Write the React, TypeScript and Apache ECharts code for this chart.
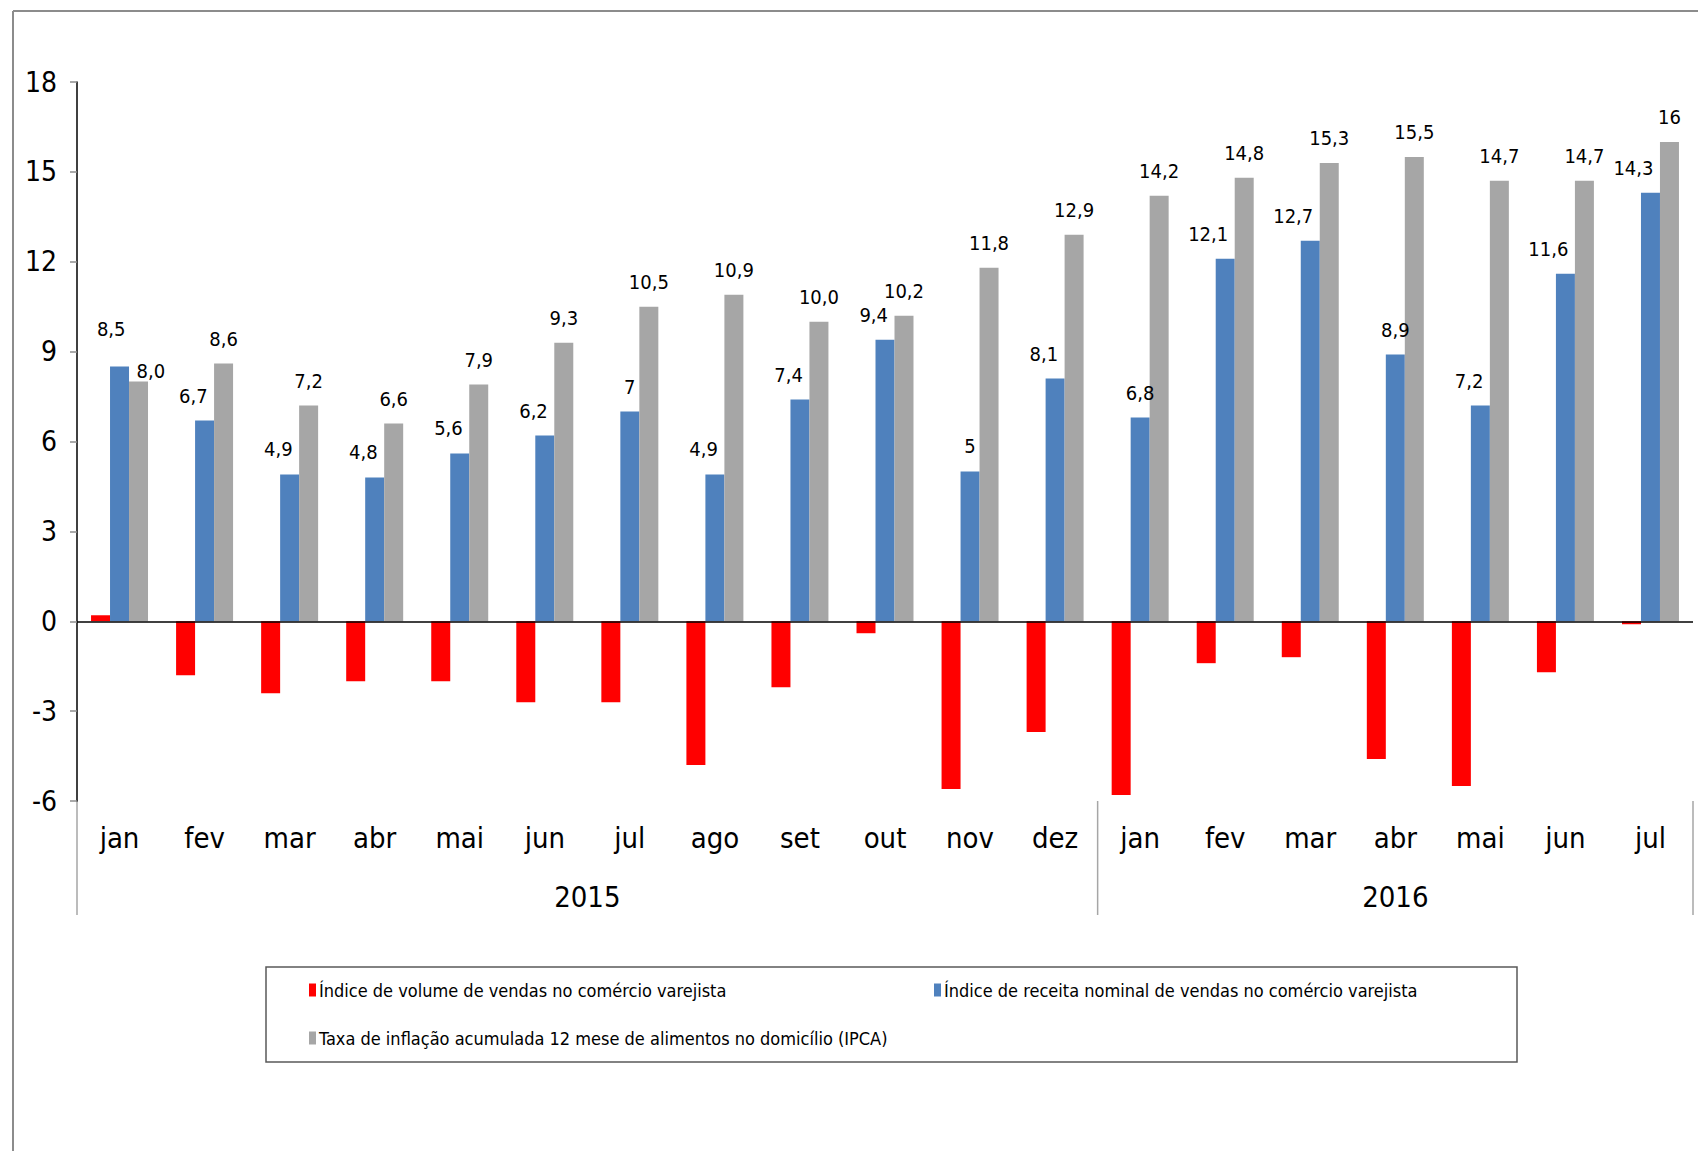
import React, { useEffect, useRef } from "react";
import * as echarts from "echarts";

// ---------- data ----------
const months = ["jan", "fev", "mar", "abr", "mai", "jun", "jul", "ago", "set", "out", "nov", "dez", "jan", "fev", "mar", "abr", "mai", "jun", "jul"];
const years = ["2015", "2016"];
const monthsPerYear = [12, 7];
const seriesNames = [
  "Índice de volume de vendas no comércio varejista",
  "Índice de receita nominal de vendas no comércio varejista",
  "Taxa de inflação acumulada 12 mese de alimentos no domicílio (IPCA)",
];
const volume = [0.2, -1.8, -2.4, -2.0, -2.0, -2.7, -2.7, -4.8, -2.2, -0.4, -5.6, -3.7, -5.8, -1.4, -1.2, -4.6, -5.5, -1.7, -0.1];
const receita = [8.5, 6.7, 4.9, 4.8, 5.6, 6.2, 7, 4.9, 7.4, 9.4, 5, 8.1, 6.8, 12.1, 12.7, 8.9, 7.2, 11.6, 14.3];
const receitaLabels = ["8,5", "6,7", "4,9", "4,8", "5,6", "6,2", "7", "4,9", "7,4", "9,4", "5", "8,1", "6,8", "12,1", "12,7", "8,9", "7,2", "11,6", "14,3"];
const inflacao = [8.0, 8.6, 7.2, 6.6, 7.9, 9.3, 10.5, 10.9, 10.0, 10.2, 11.8, 12.9, 14.2, 14.8, 15.3, 15.5, 14.7, 14.7, 16];
const inflacaoLabels = ["8,0", "8,6", "7,2", "6,6", "7,9", "9,3", "10,5", "10,9", "10,0", "10,2", "11,8", "12,9", "14,2", "14,8", "15,3", "15,5", "14,7", "14,7", "16"];
const yMin = -6;
const yMax = 18;
const yStep = 3;

// ---------- style ----------
const FONT = "'Liberation Sans Narrow', 'Arial Narrow', 'DejaVu Sans Condensed', sans-serif";
const COLORS = ["#FF0000", "#4F81BD", "#A6A6A6"];
const blueCentered = new Set([6, 10, 12, 15]);

export default function App() {
  const ref = useRef<HTMLDivElement>(null);

  useEffect(() => {
    if (!ref.current) return;
    const chart = echarts.init(ref.current, undefined, { renderer: "svg" });

    const blueData = receita.map((v, i) => {
      const item: any = { value: v };
      if (blueCentered.has(i)) item.label = { align: "center", offset: [0, 0] };
      if (i === 0) item.label = { offset: [6, -13] };
      return item;
    });
    const grayData = inflacao.map((v, i) => {
      const item: any = { value: v };
      if (i === 0) item.label = { align: "left", offset: [-2, 14] };
      return item;
    });

    const option: any = {
      animation: false,
      textStyle: { fontFamily: FONT },
      grid: { left: 77, right: 5, top: 82, bottom: 350, containLabel: false },
      xAxis: {
        type: "category",
        data: months,
        axisLine: { show: false, onZero: false },
        axisTick: { show: false },
        axisLabel: { interval: 0, fontSize: 29, color: "#000", margin: 22, fontFamily: FONT },
        splitLine: { show: false },
      },
      yAxis: {
        type: "value",
        min: yMin,
        max: yMax,
        interval: yStep,
        axisLine: { show: true, lineStyle: { color: "#000", width: 1.5 } },
        axisTick: { show: true, length: 7, lineStyle: { color: "#8c8c8c", width: 1.5 } },
        axisLabel: { fontSize: 28, color: "#000", margin: 20, fontFamily: FONT },
        splitLine: { show: false },
      },
      legend: [0, 1, 2].map((k) => ({
        data: [seriesNames[k]],
        left: k === 1 ? 934 : 309,
        top: k === 2 ? 1029 : 981,
        padding: 0,
        itemWidth: 7,
        itemHeight: 13,
        itemGap: 5,
        icon: "rect",
        selectedMode: false,
        textStyle: { fontSize: 18, color: "#000", fontFamily: FONT, padding: [0, 0, 0, -2] },
      })),
      series: [
        {
          name: seriesNames[0],
          type: "bar",
          data: volume,
          itemStyle: { color: COLORS[0] },
          barGap: "0%",
          barCategoryGap: "33%",
          markLine: {
            silent: true,
            symbol: ["none", "none"],
            label: { show: false },
            lineStyle: { color: "#000", width: 1.5, type: "solid" },
            data: [{ yAxis: 0 }],
          },
        },
        {
          name: seriesNames[1],
          type: "bar",
          data: blueData,
          itemStyle: { color: COLORS[1] },
          barGap: "0%",
          barCategoryGap: "33%",
          label: {
            show: true,
            position: "top",
            distance: 15,
            align: "right",
            offset: [3, 0],
            fontSize: 20,
            color: "#000",
            fontFamily: FONT,
            formatter: (p: any) => receitaLabels[p.dataIndex],
          },
        },
        {
          name: seriesNames[2],
          type: "bar",
          data: grayData,
          itemStyle: { color: COLORS[2] },
          barGap: "0%",
          barCategoryGap: "33%",
          label: {
            show: true,
            position: "top",
            distance: 15,
            fontSize: 20,
            color: "#000",
            fontFamily: FONT,
            formatter: (p: any) => inflacaoLabels[p.dataIndex],
          },
        },
      ],
    };
    chart.setOption(option);

    // Build the two-level category decoration from the axes' own scales
    const c0 = chart.convertToPixel({ xAxisIndex: 0 }, 0) as number;
    const c1 = chart.convertToPixel({ xAxisIndex: 0 }, 1) as number;
    const band = c1 - c0;
    const leftEdge = c0 - band / 2;
    const yBottom = chart.convertToPixel({ yAxisIndex: 0 }, yMin) as number;
    const sepBottom = yBottom + 114;
    const elements: any[] = [];
    let start = 0;
    const boundaries = [leftEdge];
    years.forEach((yr, k) => {
      const end = start + monthsPerYear[k];
      const x0 = leftEdge + start * band;
      const x1 = leftEdge + end * band;
      boundaries.push(x1);
      elements.push({
        type: "text",
        x: (x0 + x1) / 2,
        y: yBottom + 96,
        style: { text: yr, fontSize: 29, fontFamily: FONT, fill: "#000", align: "center", verticalAlign: "middle" },
      });
      start = end;
    });
    boundaries.forEach((bx) => {
      elements.push({
        type: "line",
        shape: { x1: bx, y1: yBottom, x2: bx, y2: sepBottom },
        style: { stroke: "#a6a6a6", lineWidth: 1.5 },
      });
    });
    // outer chart-area frame
    elements.push({ type: "line", shape: { x1: 13, y1: 11, x2: 1698, y2: 11 }, style: { stroke: "#8c8c8c", lineWidth: 2 } });
    elements.push({ type: "line", shape: { x1: 13, y1: 11, x2: 13, y2: 1151 }, style: { stroke: "#8c8c8c", lineWidth: 2 } });
    // legend box
    elements.push({
      type: "rect",
      shape: { x: 266, y: 967, width: 1251, height: 95 },
      style: { fill: "none", stroke: "#595959", lineWidth: 1.5 },
      z: -1,
    });
    chart.setOption({ graphic: { elements } });

    return () => chart.dispose();
  }, []);

  return (
    <div
      ref={ref}
      style={{ position: "absolute", left: 0, top: 0, width: 1698, height: 1151, background: "#fff" }}
    />
  );
}
